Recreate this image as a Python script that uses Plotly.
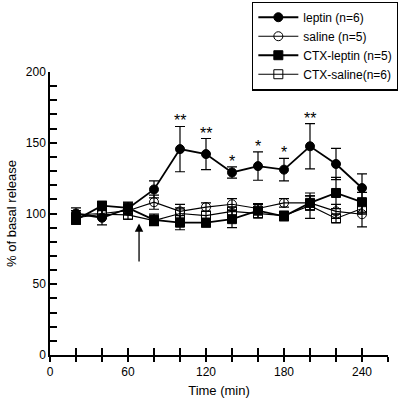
import plotly.graph_objects as go

time = [20, 40, 60, 80, 100, 120, 140, 160, 180, 200, 220, 240]
leptin = [100, 97, 103.5, 117, 145.5, 142, 129, 133.5, 131, 147.5, 135, 118]
leptin_err = [4, 5, 4, 6, 16, 11, 4, 10, 8, 16, 11, 10]
saline = [99, 100, 102, 108, 101.5, 104.5, 106.5, 103.5, 107.5, 107.5, 101.5, 99.5]
saline_err = [3, 3, 3, 5, 5, 3, 4, 3, 3, 5, 5, 9]
ctx_leptin = [95.5, 105.5, 104, 95.5, 93.5, 93.5, 96, 102, 98, 107.5, 114.5, 108]
ctx_leptin_err = [3, 3, 4, 4, 5, 3, 6, 5, 3, 5, 11, 7]
ctx_saline = [97, 99.5, 99, 95, 100, 98.5, 101.5, 100, 98.5, 105.5, 96.5, 103.5]
ctx_saline_err = [3, 3, 3, 3, 4, 3, 3, 3, 3, 9, 3, 4]

stars_x = [100, 120, 140, 160, 180, 200]
stars_text = ["**", "**", "*", "*", "*", "**"]

font = "Liberation Sans, Arial, sans-serif"

fig = go.Figure()

def add(name, y, err, symbol, lw):
    fig.add_trace(go.Scatter(
        x=time, y=y, name=name, mode="lines+markers",
        line=dict(color="black", width=lw),
        marker=dict(symbol=symbol, size=9, color="black",
                    line=dict(color="black", width=1)),
        error_y=dict(type="data", array=err, visible=True,
                     color="black", thickness=1.2, width=5),
    ))

add("leptin (n=6)", leptin, leptin_err, "circle", 1.8)
add("saline (n=5)", saline, saline_err, "circle-open", 1.1)
add("CTX-leptin (n=5)", ctx_leptin, ctx_leptin_err, "square", 1.8)
add("CTX-saline(n=6)", ctx_saline, ctx_saline_err, "square-open", 1.1)

# significance asterisks
for sx, st in zip(stars_x, stars_text):
    i = time.index(sx)
    fig.add_annotation(x=sx, y=leptin[i] + leptin_err[i], text=st,
                       showarrow=False, yanchor="bottom", yshift=-5,
                       font=dict(family=font, size=16, color="black"))

# injection arrow
fig.add_annotation(x=68.5, y=93, ax=68.5, ay=65, xref="x", yref="y",
                   axref="x", ayref="y", showarrow=True, arrowhead=2,
                   arrowsize=1.3, arrowwidth=1.3, arrowcolor="black", text="")

tickvals = list(range(0, 261, 20))
ticktext = [str(v) if v % 60 == 0 and v <= 240 else "" for v in tickvals]

fig.update_layout(
    width=399, height=401,
    margin=dict(l=50, r=11, t=72, b=46, autoexpand=False),
    paper_bgcolor="white", plot_bgcolor="white",
    font=dict(family=font, size=12, color="black"),
    showlegend=True,
    legend=dict(x=1.03, xanchor="right", y=1.249, yanchor="top",
                bordercolor="black", borderwidth=1.2, bgcolor="white",
                font=dict(size=12), tracegroupgap=0, itemwidth=40),
    xaxis=dict(range=[0, 260], tickvals=tickvals, ticktext=ticktext,
               ticks="outside", ticklen=5, tickwidth=1.5, tickcolor="black",
               showline=True, linecolor="black", linewidth=1.5,
               showgrid=False, zeroline=False,
               title=dict(text="Time (min)", font=dict(size=13), standoff=8)),
    xaxis2=dict(range=[0, 260], tickvals=tickvals, ticks="inside", ticklen=7,
                tickwidth=1.5, tickcolor="black", showticklabels=False,
                overlaying="x", side="bottom", showgrid=False, zeroline=False,
                anchor="y"),
    yaxis=dict(range=[0, 200], tickvals=list(range(0, 201, 10)),
               ticktext=[str(v) if v % 50 == 0 else "" for v in range(0, 201, 10)],
               ticks="inside", ticklen=7, tickwidth=1.5, tickcolor="black",
               showline=True, linecolor="black", linewidth=1.5,
               showgrid=False, zeroline=False,
               title=dict(text="% of basal release", font=dict(size=13), standoff=6)),
)

# dummy trace to activate xaxis2
fig.add_trace(go.Scatter(x=[0], y=[-10], xaxis="x2", showlegend=False,
                         mode="markers", marker=dict(opacity=0), hoverinfo="skip"))

fig.write_html("out.html", config={"displayModeBar": False},
               post_script="document.body.style.margin='0';")
